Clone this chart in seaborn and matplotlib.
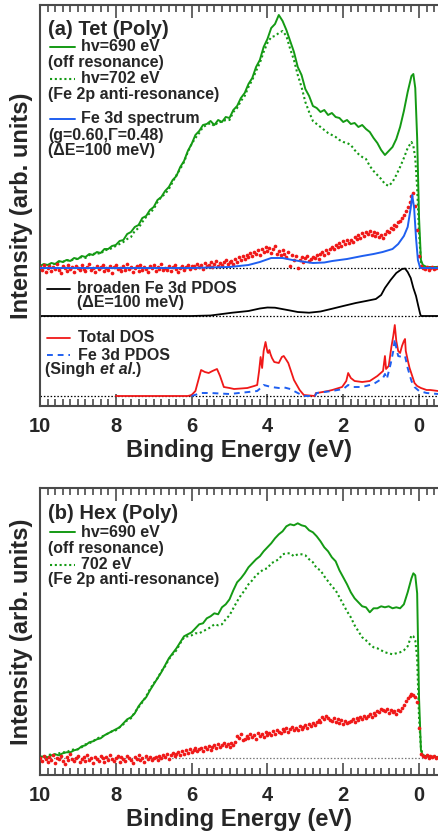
import numpy as np
import matplotlib
matplotlib.use("Agg")
import matplotlib.pyplot as plt
from matplotlib.lines import Line2D
from matplotlib.ticker import MultipleLocator
import seaborn as sns

# ---------------- data (intensity in arb. units above each baseline) ----------------
# energy sampling of the measured spectra: 10.0 ... 0.2 eV in 0.1 steps, then the Fermi edge
edge_e = [0.15, 0.1, 0.05, 0.0, -0.05, -0.1, -0.2, -0.5]
spec_e = np.concatenate([np.arange(100, 1, -1) / 10.0, edge_e])

# (a) Tet (Poly)
tet_i690 = [2, 4, 3, 5, 4, 7, 6, 8, 7, 10,
            9, 12, 11, 14, 13, 16, 15, 19, 19, 22,
            23, 27, 28, 34, 36, 41, 43, 50, 52, 58,
            61, 68, 71, 77, 81, 88, 92, 101, 107, 117,
            124, 133, 137, 143, 144, 147, 143, 148, 146, 151,
            150, 158, 162, 170, 175, 184, 190, 201, 208, 221,
            229, 240, 244, 253, 247, 238, 227, 216, 201, 193,
            179, 172, 162, 160, 156, 158, 153, 155, 151, 150,
            146, 148, 144, 145, 141, 143, 139, 136, 130, 125,
            118, 113, 117, 121, 129, 141, 157, 176, 192,
            194, 180, 130, 50, 8, 3, 1, 1]

tet_i702 = [1, 3, 2, 4, 4, 6, 6, 8, 7, 9,
            9, 11, 10, 13, 14, 15, 14, 18, 18, 20,
            22, 24, 26, 29, 31, 37, 40, 46, 51, 55,
            59, 66, 71, 74, 79, 86, 93, 99, 106, 116,
            124, 130, 135, 141, 143, 145, 142, 146, 146, 148,
            148, 156, 160, 167, 172, 181, 188, 197, 205, 216,
            225, 231, 232, 235, 237, 232, 219, 208, 193, 181,
            166, 156, 147, 144, 141, 138, 135, 133, 131, 128,
            126, 125, 123, 118, 114, 111, 109, 102, 97, 93,
            89, 84, 82, 86, 93, 101, 110, 120, 126,
            122, 110, 80, 35, 6, 2, 1, 1]

# Fe 3d difference spectrum (red points), E = 10.0 ... -0.5 in 0.05 eV steps
diff_e = np.linspace(10.0, -0.5, 211)
tet_diff = [1, -2, 3, -4, 0, 2, -3, 1, -1, 4, -2, -5, 2, 0, -3, 3, -1, 1, -4, 2,
            0, -2, 3, -1, -3, 1, 4, -2, 0, -4, 2, -1, 1, 3, -3, 0, -2, 2, -5, 1,
            3, -1, 0, -3, 2, -2, 4, -1, 1, -4, 0, 2, -3, 3, -2, 1, -1, -4, 2, 0,
            3, -3, 1, -1, 4, -2, 0, -2, 2, -3, 1, 3, -1, -4, 0, 2, -2, 1, 3, -1, 2,
            2, 0, 4, 1, 3, -1, 5, 2, 3, 6, 1, 4, 7, 2, 5, 3, 6, 8, 4, 6,
            7, 4, 9, 6, 11, 8,
            12, 9, 13, 11, 15, 12, 16, 14, 18, 13, 19, 16, 21, 17,
            20, 15, 19, 22, 14, 17, 13, 18,
            14, 11, 16, 2, 13, 8, 12, 0,
            8, 11, 6, 10, 12, 7, 9, 11,
            10, 13, 9, 14, 16, 13, 18, 15, 19, 21,
            19, 23, 21, 25, 22, 27, 24, 28, 25,
            28, 26, 31, 29, 33, 30, 35, 32, 36,
            34, 37, 33, 36, 32, 35, 31, 33, 30,
            34, 37, 36, 40, 39, 43, 42, 46,
            47, 50, 53, 57, 61,
            66, 72, 75, 62, 38, 12,
            2, 0, -1, 1, -2, 0, 1, -1, 0, 1]

tet_fit_e = [10.0, 6.0, 5.0, 4.5, 4.2, 3.9, 3.6, 3.34, 3.0, 2.8, 2.5, 2.29, 1.9, 1.5, 1.2,
             0.96, 0.7, 0.55, 0.4, 0.3, 0.22, 0.18, 0.13, 0.08, 0.03, -0.03, -0.5]
tet_fit_i = [0, 0, 1, 3, 6, 10, 10, 8, 6, 5, 5.5, 7, 9, 12, 14,
             16, 19, 24, 32, 41, 60, 73, 60, 30, 8, 0, 0]

pdos_b_e = [10.0, 6.0, 5.5, 4.93, 4.5, 4.2, 4.0, 3.8, 3.43, 3.2, 2.9, 2.6, 2.29, 2.0, 1.67,
            1.4, 1.14, 1.0, 0.9, 0.75, 0.6, 0.45, 0.37, 0.3, 0.22, 0.15, 0.08, 0.02,
            -0.03, -0.05, -0.5]
pdos_b_i = [0, 0, 0.5, 3.3, 5, 7.5, 8.5, 8.3, 5.7, 4, 3.3, 4.5, 7.3, 10, 13,
            15, 17, 21, 28, 36, 43, 47, 47.5, 44, 38, 28, 20, 10,
            2, 0, 0]

dos_e = [8.0, 6.1, 6.0, 5.9, 5.75, 5.65, 5.55, 5.45, 5.33, 5.25, 5.15, 5.0, 4.88, 4.7, 4.53,
         4.35, 4.27, 4.22, 4.18, 4.14, 4.1, 4.05, 4.0, 3.98, 3.95, 3.92, 3.88, 3.82, 3.7,
         3.62, 3.57, 3.5, 3.45, 3.3, 3.15, 3.04, 2.75, 2.72, 2.69, 2.4, 2.29, 2.03, 1.92,
         1.87, 1.8, 1.7, 1.5, 1.3, 1.1, 0.95, 0.9, 0.87, 0.8, 0.73, 0.68, 0.64, 0.6, 0.55,
         0.5, 0.45, 0.4, 0.37, 0.35, 0.3, 0.25, 0.18, 0.12, 0.05, -0.05, -0.2, -0.3, -0.5]
dos_i = [0, 0, 1, 5, 26, 24, 23, 25, 27, 20, 9, 8, 7, 7.5, 8,
         10, 11, 25, 39, 28, 45, 54, 44, 43, 46, 42, 38, 34, 33,
         39, 40, 36, 33, 16, 6, 1, 0, 3, 3, 5, 6, 9, 15,
         23, 18, 15, 14, 15, 20, 25, 40, 27, 30, 49, 60, 71, 55, 45,
         43, 50, 55, 57, 45, 36, 28, 20, 13, 10, 8, 6, 6, 5]

fe3d_e = [6.0, 5.75, 5.5, 5.0, 4.5, 4.27, 4.15, 4.1, 4.0, 3.9, 3.7, 3.55, 3.4, 3.3, 3.1,
          3.0, 2.75, 2.7, 2.3, 2.0, 1.87, 1.75, 1.5, 1.2, 0.95, 0.9, 0.85, 0.75, 0.68,
          0.64, 0.6, 0.55, 0.45, 0.37, 0.3, 0.2, 0.12, 0.0, -0.2, -0.5]
fe3d_i = [0, 3, 3, 2, 4, 5, 9, 11, 10, 9, 8, 8.5, 7, 5, 1,
          0, 0, 3, 5, 7, 11, 9, 9, 12, 18, 22, 17, 32, 45,
          57, 48, 40, 39, 40, 28, 15, 9, 5, 3, 2]

# (b) Hex (Poly)
hex_i690 = [1, 2, 1, 3, 4, 3, 5, 6, 6, 8,
            9, 12, 13, 16, 17, 19, 20, 23, 25, 27,
            29, 31, 35, 39, 41, 45, 52, 57, 61, 68,
            74, 80, 86, 93, 100, 105, 110, 116, 122, 124,
            126, 130, 134, 135, 140, 142, 145, 144, 151, 154,
            159, 168, 176, 180, 185, 191, 195, 199, 202, 207,
            211, 215, 220, 224, 227, 232, 234, 233, 235, 233,
            232, 228, 226, 222, 217, 211, 207, 201, 197, 188,
            181, 174, 166, 160, 156, 152, 151, 146, 150, 150,
            152, 151, 152, 150, 151, 150, 154, 166, 180,
            185, 183, 165, 60, 8, 3, 2, 1]

hex_i702 = [2, 1, 3, 4, 4, 5, 6, 6, 8, 9,
            9, 11, 14, 15, 17, 20, 21, 23, 25, 27,
            28, 31, 34, 38, 40, 46, 51, 56, 62, 69,
            75, 80, 87, 92, 99, 104, 108, 115, 121, 122,
            123, 125, 125, 127, 129, 131, 134, 133, 134, 139,
            143, 150, 157, 163, 168, 174, 178, 183, 186, 189,
            190, 195, 197, 199, 204, 205, 205, 202, 204, 204,
            203, 199, 196, 190, 188, 182, 177, 172, 168, 161,
            154, 147, 141, 133, 127, 121, 118, 114, 111, 110,
            108, 106, 105, 104, 105, 106, 108, 112, 123,
            122, 118, 100, 40, 10, 3, 2, 1]

hex_diff = [0, -3, 2, -1, -4, 1, -2, 3, -5, 0,
            -1, 2, -3, -6, 1, -2, 4, -1, -3, 0,
            2, -4, -1, 1, -3, 3, -2, 0, -5, 1,
            -1, -3, 2, 0, -4, 1, -2, 3, -1, -3,
            0, 2, -4, 1, -1, -3, 2, 0, -2, -5,
            1, -1, 3, -2, 0, -4, 2, -1, 1, -2, 0,
            1, -2, 2, 0, 3, 1, 4, -1, 3, 5, 2, 4, 6, 3, 7, 4, 8, 5, 9, 6, 8, 10, 7, 9,
            10, 7, 11, 9, 12, 8, 11, 13, 10, 14, 11, 13, 15, 12, 14, 11, 15, 13, 16,
            22, 20, 24, 18,
            19, 22, 20, 24, 21, 23, 19, 25, 22, 24, 21, 26, 23,
            25, 23, 27, 24, 28, 26, 25, 29, 27, 30, 26, 29, 31, 28,
            30, 28, 32, 29, 31, 33, 30, 34, 32, 35, 33, 36,
            38, 36, 41, 39, 42, 40, 38,
            37, 40, 36, 39, 35, 38, 34, 37, 35, 36,
            37, 39, 36, 40, 38, 41, 39, 42, 40,
            42, 44, 41, 45, 43, 47, 46, 49, 48,
            47, 49, 45, 48, 46, 47, 44, 48, 47,
            50, 53, 57, 60, 62, 64,
            63, 61, 56, 30,
            4, 2, 1, 3, 0, 2, 1, 2, 0, 1]

# baselines (offsets in each panel)
tet_base = 138
pdos_base = 90
dos_base = 10
hex_base = 16.7

green = "#149a14"
red = "#f01818"
blue = "#1f5ff0"
dotted = (0, (1, 1.3))

sns.set_style("white")
plt.rcParams["font.family"] = ["Liberation Sans", "DejaVu Sans"]
plt.rcParams["font.weight"] = "bold"
plt.rcParams["axes.labelweight"] = "bold"

fig = plt.figure(figsize=(4.38, 8.36), dpi=100)
ax1 = fig.add_axes([40 / 438, 1 - 406 / 836, 398 / 438, 401 / 836])
ax2 = fig.add_axes([40 / 438, 1 - 775 / 836, 398 / 438, 287 / 836])


def style_axes(ax):
    ax.set_xlim(10, -0.5)
    ax.xaxis.set_major_locator(MultipleLocator(2))
    ax.xaxis.set_minor_locator(MultipleLocator(0.2))
    ax.set_yticks([])
    ax.tick_params(axis="x", which="both", direction="in", top=True, bottom=True,
                   color="#4a4a4a", width=1.2, labelsize=14.5, pad=8)
    ax.tick_params(axis="x", which="major", length=9)
    ax.tick_params(axis="x", which="minor", length=5)
    for s in ["left", "top", "bottom"]:
        ax.spines[s].set_color("#4a4a4a")
        ax.spines[s].set_linewidth(1.5)
    ax.spines["right"].set_visible(False)
    for lab in ax.get_xticklabels():
        lab.set_fontweight("bold")
    ax.set_xlabel("Binding Energy (eV)", fontsize=17, labelpad=2)
    ax.set_ylabel("Intensity (arb. units)", fontsize=17, labelpad=5)


def add_key(ax, y, x0, x1, **kw):
    ax.add_line(Line2D([x0, x1], [y, y], transform=ax.transAxes, **kw))


# ---------------- panel (a) ----------------
ax = ax1
for b in [tet_base, pdos_base, dos_base]:
    ax.axhline(b, color="black", lw=0.9, ls=(0, (1.2, 1.5)), zorder=1)

sns.lineplot(x=spec_e, y=np.array(tet_i690) + tet_base, ax=ax, color=green, lw=1.4,
             sort=False, estimator=None)
sns.lineplot(x=spec_e, y=np.array(tet_i702) + tet_base, ax=ax, color=green, lw=1.5,
             ls=dotted, sort=False, estimator=None)
sns.scatterplot(x=diff_e, y=np.array(tet_diff) + tet_base, ax=ax, color=red, s=7,
                linewidth=0, zorder=3)
sns.lineplot(x=tet_fit_e, y=np.array(tet_fit_i) + tet_base, ax=ax, color=blue, lw=1.4,
             sort=False, estimator=None, zorder=4)
sns.lineplot(x=pdos_b_e, y=np.array(pdos_b_i) + pdos_base, ax=ax, color="black", lw=1.3,
             sort=False, estimator=None)
sns.lineplot(x=dos_e, y=np.array(dos_i) + dos_base, ax=ax, color=red, lw=1.3,
             sort=False, estimator=None)
sns.lineplot(x=fe3d_e, y=np.array(fe3d_i) + dos_base, ax=ax, color=blue, lw=1.4,
             ls=(0, (3, 2.5)), sort=False, estimator=None)
ax.set_ylim(0, 401)
style_axes(ax)

fs = 11.5
tk = dict(transform=ax.transAxes, fontsize=fs, fontweight="bold", va="center", ha="left")
ax.text(0.020, 0.940, "(a) Tet (Poly)", transform=ax.transAxes, fontsize=14.5,
        fontweight="bold", va="center")
add_key(ax, 0.896, 0.025, 0.088, color=green, lw=1.4)
ax.text(0.103, 0.896, "hv=690 eV", **tk)
ax.text(0.020, 0.856, "(off resonance)", **tk)
add_key(ax, 0.816, 0.025, 0.088, color=green, lw=1.5, ls=dotted)
ax.text(0.103, 0.816, "hv=702 eV", **tk)
ax.text(0.020, 0.776, "(Fe 2p anti-resonance)", **tk)
add_key(ax, 0.716, 0.025, 0.088, color=blue, lw=1.4)
ax.text(0.103, 0.716, "Fe 3d spectrum", **tk)
ax.text(0.020, 0.674, "(g=0.60,\u0393=0.48)", **tk)
ax.text(0.020, 0.636, "(\u0394E=100 meV)", **tk)

add_key(ax, 0.292, 0.018, 0.075, color="black", lw=1.3)
ax.text(0.093, 0.292, "broaden Fe 3d PDOS", **tk)
ax.text(0.093, 0.257, "(\u0394E=100 meV)", **tk)

add_key(ax, 0.170, 0.018, 0.075, color=red, lw=1.3)
ax.text(0.095, 0.170, "Total DOS", **tk)
add_key(ax, 0.127, 0.018, 0.075, color=blue, lw=1.4, ls=(0, (3, 2.5)))
ax.text(0.095, 0.127, "Fe 3d PDOS", **tk)
t1 = ax.text(0.013, 0.090, "(Singh ", **tk)
t2 = ax.annotate("et al.", xy=(1, 0), xycoords=t1, va="bottom", ha="left",
                 fontsize=fs, fontweight="bold", style="italic")
ax.annotate(")", xy=(1, 0), xycoords=t2, va="bottom", ha="left",
            fontsize=fs, fontweight="bold")

# ---------------- panel (b) ----------------
ax = ax2
ax.axhline(hex_base, color="#777777", lw=0.9, ls=(0, (1.2, 1.5)), zorder=1)
sns.lineplot(x=spec_e, y=np.array(hex_i690) + hex_base, ax=ax, color=green, lw=1.4,
             sort=False, estimator=None)
sns.lineplot(x=spec_e, y=np.array(hex_i702) + hex_base, ax=ax, color=green, lw=1.5,
             ls=dotted, sort=False, estimator=None)
sns.scatterplot(x=diff_e, y=np.array(hex_diff) + hex_base, ax=ax, color=red, s=7,
                linewidth=0, zorder=3)
ax.set_ylim(0, 287)
style_axes(ax)

tk = dict(transform=ax.transAxes, fontsize=fs, fontweight="bold", va="center", ha="left")
ax.text(0.020, 0.910, "(b) Hex (Poly)", transform=ax.transAxes, fontsize=14.5,
        fontweight="bold", va="center")
add_key(ax, 0.845, 0.025, 0.088, color=green, lw=1.4)
ax.text(0.103, 0.845, "hv=690 eV", **tk)
ax.text(0.020, 0.789, "(off resonance)", **tk)
add_key(ax, 0.733, 0.025, 0.088, color=green, lw=1.5, ls=dotted)
ax.text(0.103, 0.733, "702 eV", **tk)
ax.text(0.020, 0.681, "(Fe 2p anti-resonance)", **tk)

fig.savefig("out.png", dpi=100)
